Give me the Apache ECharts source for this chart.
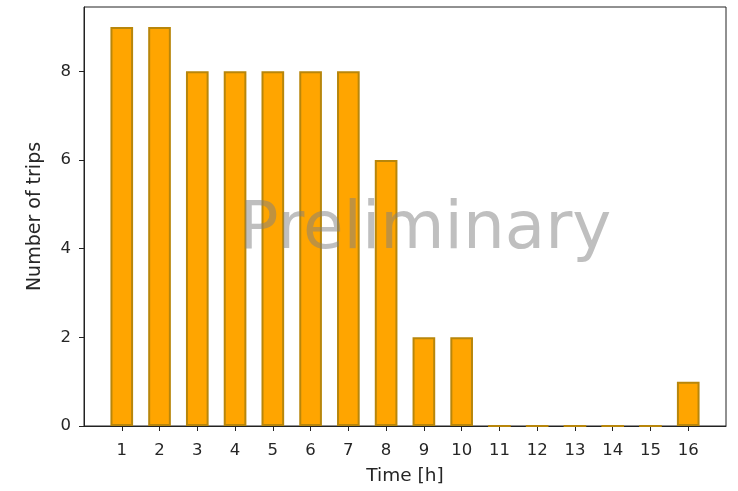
<!DOCTYPE html>
<html>
<head>
<meta charset="utf-8">
<style>
  html, body { margin: 0; padding: 0; background: #fff; }
  #chart { width: 738px; height: 491px; }
</style>
<script src="https://cdn.jsdelivr.net/npm/echarts@6/dist/echarts.min.js"></script>
</head>
<body>
<div id="chart"></div>
<script>
// Hours since start and the number of trips counted in each hour
const hours = ['1', '2', '3', '4', '5', '6', '7', '8', '9', '10', '11', '12', '13', '14', '15', '16'];
const trips = [9, 9, 8, 8, 8, 8, 8, 6, 2, 2, 0, 0, 0, 0, 0, 1];
const yTicks = [0, 2, 4, 6, 8];

const FONT = 'DejaVu Sans';
const TEXT = '#262626';

// One empty slot on each side keeps a full hour of room at the ends
const axisCats = [''].concat(hours, ['']);
const axisVals = [null].concat(trips, [null]);

const chart = echarts.init(document.getElementById('chart'), null, { renderer: 'canvas' });

chart.setOption({
  animation: false,
  backgroundColor: '#ffffff',
  grid: {
    left: 84, right: 12, top: 7, bottom: 65,
    show: true, borderColor: '#222', borderWidth: 1,
    containLabel: false, outerBoundsMode: 'none'
  },
  xAxis: {
    type: 'category',
    data: axisCats,
    boundaryGap: false,
    name: 'Time [h]',
    nameLocation: 'middle',
    nameGap: 41,
    nameTextStyle: { fontFamily: FONT, fontSize: 18.5, color: TEXT },
    axisLine: { show: true, lineStyle: { color: '#222', width: 1 } },
    axisTick: {
      show: true, length: 5, lineStyle: { color: '#222' },
      interval: (i, v) => v !== ''
    },
    axisLabel: {
      interval: 0, margin: 16,
      fontFamily: FONT, fontSize: 16.5, color: TEXT
    },
    splitLine: { show: false }
  },
  yAxis: {
    type: 'value',
    min: 0,
    max: Math.max(...trips) * 1.05,
    name: 'Number of trips',
    nameLocation: 'middle',
    nameGap: 39,
    nameTextStyle: { fontFamily: FONT, fontSize: 19, color: TEXT },
    axisLine: { show: true, lineStyle: { color: '#222', width: 1 } },
    axisTick: { show: true, length: 5, lineStyle: { color: '#222' }, customValues: yTicks },
    axisLabel: {
      margin: 13, fontFamily: FONT, fontSize: 16.5, color: TEXT,
      customValues: yTicks
    },
    splitLine: { show: false }
  },
  series: [{
    type: 'bar',
    data: axisVals,
    barWidth: '60%',
    itemStyle: {
      color: '#FFA500',
      borderColor: '#B8860B',
      borderWidth: 2
    },
    z: 2
  }],
  graphic: [{
    type: 'text',
    z: 100,
    x: 425,
    y: 198,
    style: {
      text: 'Preliminary',
      font: '66px "DejaVu Sans"',
      fill: 'rgba(128,128,128,0.5)',
      align: 'center',
      verticalAlign: 'top'
    }
  }]
});
</script>
</body>
</html>
